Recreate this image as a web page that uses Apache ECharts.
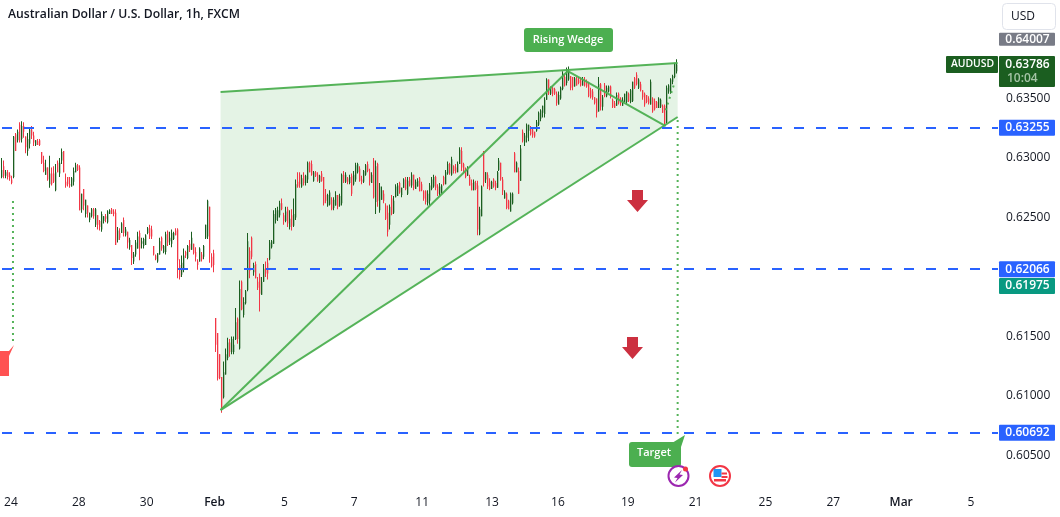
<!DOCTYPE html>
<html>
<head>
<meta charset="utf-8">
<title>AUDUSD 1h</title>
<style>html,body{margin:0;padding:0;background:#fff}#chart{width:1060px;height:517px}</style>
<script src="https://cdn.jsdelivr.net/npm/echarts@6/dist/echarts.min.js"></script>
</head>
<body>
<div id="chart"></div>
<script>
// Hourly bars in 1e-5 price points: [open, close, low, high]
const lateJanuaryBars = [
[62840,62900,62830,63000],[62930,62850,62830,62980],[62850,62880,62830,62900],[62880,62840,62820,62900],[62860,62830,62810,62880],
[62820,62790,62780,62850],[62840,63180,62830,63185],[63200,63060,63060,63210],[63150,63220,63130,63240],[63280,63150,63130,63300],[63160,63270,63130,63310],
[63270,63220,63170,63300],[63180,63090,63040,63180],[63060,63160,63020,63210],[63120,63240,63080,63250],[63240,63190,63160,63270],[63190,63130,63100,63220],
[63110,63150,63100,63150],[63140,63110,63110,63160],[63150,63110,63100,63160],[63050,62960,62950,63050],[62960,62890,62880,63020],[62860,62920,62860,62985],
[62920,62820,62810,62920],[62780,62870,62750,63020],[62870,62780,62770,62920],[62870,62800,62790,62930],[62730,62880,62720,62950],[62960,62880,62880,62980],
[62870,62960,62840,63000],[62980,63050,62950,63080],[63060,62880,62880,63060],[62800,62770,62750,62870],[62840,62780,62760,62840],[62780,62770,62750,62840],
[62760,62830,62760,62840],[62800,62890,62770,62920],[62880,62940,62880,62960],[62940,62900,62890,62950],[62920,62560,62560,62940],[62570,62700,62540,62700],
[62740,62600,62560,62740],[62530,62650,62500,62650],[62600,62540,62500,62600],[62480,62540,62460,62540],[62510,62570,62500,62580],[62570,62510,62490,62580],
[62440,62570,62420,62580],[62520,62440,62400,62520],[62470,62420,62390,62480],[62400,62530,62380,62550],[62470,62510,62450,62510],[62510,62490,62460,62530],
[62460,62550,62450,62560],[62530,62560,62530,62570],[62570,62530,62530,62580],[62550,62530,62510,62570],[62540,62270,62270,62570],[62310,62390,62290,62420],
[62370,62330,62310,62410],[62370,62450,62370,62460],[62480,62370,62340,62500],[62350,62400,62340,62420],[62380,62290,62240,62380],[62250,62310,62230,62330],
[62270,62160,62100,62270],[62130,62190,62110,62210],[62190,62290,62170,62310],[62240,62340,62240,62380],[62370,62240,62140,62390],[62280,62300,62240,62330],[62260,62320,62240,62330],
[62270,62350,62270,62360],[62370,62410,62360,62420],[62410,62340,62320,62440],[62400,62340,62320,62430],[62260,62190,62180,62260],[62180,62150,62140,62190],
[62130,62200,62120,62200],[62190,62300,62190,62330],[62330,62240,62220,62340],[62210,62260,62200,62270],[62210,62360,62190,62380],[62380,62290,62260,62390],[62300,62330,62270,62380],
[62280,62370,62250,62400],[62320,62370,62310,62380],[62390,62350,62350,62410],[62400,62140,61990,62410],[62100,62000,61980,62150],[62020,62120,62000,62180],
[62060,62180,62040,62240],[62210,62180,62160,62220],[62160,62260,62150,62270],[62280,62230,62210,62310],[62230,62330,62230,62380],[62280,62200,62190,62280],
[62210,62170,62130,62250],[62130,62100,62060,62150],[62130,62240,62130,62250],[62190,62150,62130,62210],[62170,62260,62150,62270],[62330,62440,62320,62440],
[62340,62640,62320,62650],[62590,62200,62120,62590],[62170,62090,62080,62200],[62200,62100,62040,62230]
];
const earlyFebruaryBars = [
[61655,61430,61370,61655],[61530,61150,61130,61530],[61350,61150,61140,61350],[61160,60890,60860,61160],[60990,61200,60980,61290],[61180,61350,61180,61400],
[61320,61450,61300,61490],[61450,61370,61330,61480],[61370,61480,61350,61500],[61370,61430,61350,61500],[61480,61620,61470,61740],[61650,61480,61440,61660],
[61400,61900,61390,61970],[61960,61730,61720,61970],[61680,61790,61660,61830],[61780,61880,61770,61890],[61890,62300,61880,62370],[62220,62050,61990,62250],
[62330,62170,62150,62340],[62040,62100,62010,62120],[62110,61990,61990,62130],[61960,61910,61890,62000],[62000,61860,61710,62030],[61850,61960,61850,62000],
[61960,62070,61960,62110],[62070,62030,62000,62130],[62120,62030,61980,62160],[62150,62290,62140,62310],[62250,62300,62240,62310],[62280,62530,62280,62560],
[62480,62560,62450,62580],[62500,62560,62470,62590],[62520,62620,62500,62640],[62620,62570,62560,62660],[62520,62470,62440,62540],[62470,62550,62460,62590],
[62570,62450,62420,62590],[62420,62490,62400,62560],[62520,62430,62390,62570],[62430,62530,62420,62660],[62500,62780,62480,62820],[62800,62760,62750,62880],
[62860,62780,62750,62880],[62760,62830,62750,62860],[62850,62790,62770,62880],[62790,62850,62770,62860],[62820,62960,62790,62970],[62960,62880,62880,62970],
[62950,62860,62850,62980],[62810,62880,62800,62890],[62880,62850,62840,62890],[62860,62810,62800,62880],[62800,62850,62790,62860],[62870,62810,62800,62890],
[62840,62620,62600,62840],[62690,62640,62620,62740],[62600,62690,62590,62700],[62610,62710,62600,62730],[62650,62570,62560,62670],[62580,62650,62560,62670],
[62600,62690,62600,62720],[62690,62590,62570,62690],[62600,62680,62590,62700],[62620,62860,62600,62870],[62860,62800,62790,62890],[62800,62860,62790,62880],
[62830,62800,62780,62840],[62790,62840,62780,62860],[62850,62700,62680,62870],[62780,62860,62770,62890],[62820,62940,62800,62960],[62880,62950,62870,62960],
[62910,62810,62800,62930],[62820,62800,62780,62850],[62800,62890,62790,62900],[62860,62940,62850,62950],[62950,62890,62880,62970],[62880,62800,62770,62910],
[62790,62860,62790,62880],[62980,62670,62660,63000]
];
const midFebruaryBars = [
[62630,62930,62530,62980],[62950,62640,62590,62960],[62560,62760,62540,62790],[62650,62730,62650,62760],[62700,62640,62620,62730],[62600,62490,62480,62620],
[62540,62380,62340,62600],[62440,62590,62400,62610],[62660,62530,62520,62690],[62540,62640,62530,62680],[62670,62760,62670,62780],[62680,62770,62680,62790],
[62790,62710,62700,62800],[62690,62750,62670,62750],[62750,62820,62750,62830],[62820,62740,62730,62840],[62700,62810,62690,62840],[62820,62770,62760,62840],
[62770,62860,62750,62880],[62860,62750,62730,62860],[62740,62800,62740,62820],[62760,62810,62760,62830],[62830,62720,62720,62840],[62780,62730,62720,62800],
[62720,62660,62640,62730],[62720,62630,62610,62730],[62620,62700,62600,62730],[62640,62770,62600,62790],[62740,62820,62730,62840],[62760,62840,62750,62860],
[62840,62750,62730,62850],[62760,62700,62680,62780],[62700,62760,62680,62790],[62700,62770,62700,62780],[62840,62780,62770,62850],[62780,62880,62780,62900],
[62870,62950,62860,62970],[62950,62870,62860,62960],[62860,62990,62850,63010],[62930,62890,62870,62940],[62920,62880,62870,62950],[62880,62950,62880,62970],
[62950,63070,62950,63090],[63060,62920,62890,63090],[62950,62880,62870,62960],[62900,62840,62830,62920],[62850,62910,62850,62930],[62840,62770,62770,62860],
[62790,62730,62730,62820],[62730,62800,62730,62820],[62790,62740,62730,62810],[62770,62400,62350,62810],[62360,62570,62350,62590],[62510,62760,62510,62770],
[63060,62800,62760,63060],[62820,62880,62790,62880],[62860,62760,62740,62880],[62800,62740,62730,62830],[62740,62800,62740,62810],[62820,62760,62750,62830],
[62790,62750,62730,62810],[62750,62880,62750,62890],[62900,62980,62890,63000],[62960,62820,62810,62960],[62820,62720,62690,62840],[62660,62710,62660,62730],
[62700,62580,62570,62710],[62640,62570,62570,62650],[62550,62700,62550,62710],[62620,62700,62610,62710],[63040,62880,62880,63050],[62880,62960,62880,62970],
[62890,62700,62700,62920],[62810,63080,62810,63110]
];
const lateFebruaryBars = [
[63220,63140,63130,63240],[63130,63190,63100,63210],[63170,63280,63130,63290],[63230,63280,63140,63280],[63250,63200,63190,63270],[63240,63190,63170,63260],
[63220,63180,63170,63220],[63230,63300,63220,63320],[63280,63380,63270,63390],[63330,63400,63310,63410],[63380,63440,63340,63440],[63370,63490,63340,63510],
[63490,63660,63490,63670],[63660,63540,63530,63660],[63540,63590,63530,63600],[63590,63540,63520,63600],[63580,63540,63530,63590],[63540,63460,63440,63560],
[63450,63530,63450,63560],[63500,63590,63490,63600],[63580,63710,63570,63730],[63680,63610,63600,63700],[63630,63730,63610,63760],[63660,63730,63650,63770],
[63690,63590,63570,63690],[63680,63600,63570,63680],[63600,63670,63600,63680],[63670,63610,63610,63680],[63660,63630,63620,63680],[63660,63610,63600,63680],
[63610,63660,63610,63680],[63660,63610,63600,63680],[63640,63600,63590,63660],[63620,63520,63510,63640],[63570,63510,63500,63590],[63560,63510,63490,63580],
[63510,63460,63450,63510],[63500,63380,63340,63500],[63390,63620,63390,63680],[63620,63430,63400,63630],[63430,63510,63400,63530],[63610,63520,63510,63630],
[63520,63590,63510,63610],[63560,63600,63550,63610],[63600,63520,63500,63610],[63490,63430,63420,63500],[63460,63420,63420,63480],[63440,63530,63440,63550],
[63540,63460,63450,63550],[63500,63460,63440,63510],[63440,63490,63440,63510],[63470,63540,63470,63540],[63470,63560,63450,63560],[63540,63480,63470,63550],
[63470,63570,63460,63580],[63480,63640,63470,63640],[63670,63590,63580,63680],[63700,63620,63610,63720],[63590,63660,63580,63670],[63620,63570,63560,63640],
[63570,63510,63490,63570],[63540,63450,63430,63550],[63530,63470,63460,63530],[63500,63460,63450,63520],[63450,63640,63450,63660],[63500,63390,63380,63510],
[63480,63410,63400,63500],[63470,63420,63420,63480],[63420,63500,63420,63510],[63430,63490,63420,63500],[63440,63380,63380,63450],[63440,63280,63270,63450],
[63300,63590,63290,63610],[63560,63610,63540,63620],[63550,63660,63540,63670],[63640,63690,63620,63700],[63680,63790,63670,63800],[63730,63786,63710,63830]
];

// Date labels along the time scale and the bar slot each one sits on
const dateLabels = ['24','28','30','Feb','5','7','11','13','16','19','21','25','27','Mar','5'];
const dateSlots = [4,38,72,106,141,176,210,245,278,313,347,382,416,450,485];
const slotCount = 499;

// Price scale
const priceTicks = [0.605,0.61,0.615,0.625,0.63,0.635];
const priceFloor = 0.6021;
const priceCeiling = 0.64328;

// Horizontal support and resistance levels
const levelPrices = [0.63255,0.62066,0.60692];

// Drawn wedge geometry as [bar slot, price]
const wedgeArea = [[109,0.63555],[338,0.63798],[338,0.63345],[109,0.60882]];
const wedgeTop = [[109,0.63555],[338,0.63798]];
const wedgeBottom = [[109,0.60882],[338,0.63345]];
const riseLeg = [[109,0.60882],[283,0.63731]];
const pullbackLeg = [[283,0.63731],[332,0.63269]];
const targetDrop = [[338,0.6332],[338,0.60664]];
const reboundDrop = [[336,0.6361],[332,0.634]];
const earlierDrop = [[5,0.62639],[5,0.61429]];

// Price tags in the right margin
const tagPrices = [0.64007,0.63255,0.62066,0.61975,0.60692];
const tagColors = ['#787b86','#2962ff','#2962ff','#089981','#2962ff'];
const tagHeights = [13,16,16,16,16];
const tagShifts = [1,0,0,6,0];
const lastPrice = 0.63786;
const countdown = '10:04';

const bars = [...lateJanuaryBars,...earlyFebruaryBars,...midFebruaryBars,...lateFebruaryBars]
  .map((r,i) => [i, ...r.map(v => v / 100000)]);
const slots = new Array(slotCount).fill('');
dateSlots.forEach((s,i) => { slots[s] = dateLabels[i]; });

const GREEN = '#4caf50', UI_FONT = '"Open Sans","Noto Sans",sans-serif';
const BAR_UP = '#1b5e20', BAR_DOWN = '#f23645';

function strokeSeries(points, width, dash) {
  return { type:'line', data:points, symbol:'none', silent:true, z:5, animation:false,
    lineStyle:{ color:GREEN, width:width, type:dash || 'solid', opacity:0.95 } };
}

// Thin OHLC sticks snapped to whole pixels: a one pixel wick behind a slightly wider body
function renderBar(p, api) {
  const s = api.value(0), o = api.value(1), c = api.value(2), l = api.value(3), h = api.value(4);
  const x = Math.floor(api.coord([s, o])[0]) - 1;
  const yOpen = api.coord([s, o])[1], yClose = api.coord([s, c])[1];
  const yLow = api.coord([s, l])[1], yHigh = api.coord([s, h])[1];
  const fill = c >= o ? BAR_UP : BAR_DOWN;
  const top = Math.min(yOpen, yClose), height = Math.max(Math.abs(yOpen - yClose), 1);
  return { type:'group', children:[
    { type:'rect', shape:{ x:x, y:yHigh, width:1, height:yLow - yHigh }, style:{ fill:fill } },
    { type:'rect', shape:{ x:x, y:top, width:1.3, height:height }, style:{ fill:fill } } ] };
}

const option = {
  animation:false,
  backgroundColor:'#ffffff',
  title:{ text:'Australian Dollar / U.S. Dollar, 1h, FXCM', left:3, top:4,
    textStyle:{ fontFamily:UI_FONT, fontSize:12.2, fontWeight:600, color:'#131722' } },
  grid:{ left:0, right:62, top:0, height:490, containLabel:false },
  xAxis:{ type:'category', data:slots, boundaryGap:true,
    axisLine:{show:false}, axisTick:{show:false}, splitLine:{show:false},
    axisLabel:{ interval:0, margin:7, hideOverlap:false, fontFamily:UI_FONT, fontSize:12, color:'#131722',
      formatter:v => (v==='Feb'||v==='Mar') ? '{m|'+v+'}' : v,
      rich:{ m:{ fontFamily:UI_FONT, fontSize:12, fontWeight:600, color:'#131722' } } } },
  yAxis:{ type:'value', position:'right', min:priceFloor, max:priceCeiling,
    axisLine:{show:false}, axisTick:{show:false}, splitLine:{show:false},
    axisLabel:{ customValues:priceTicks, margin:8, fontFamily:UI_FONT, fontSize:12, color:'#131722',
      formatter:v => v.toFixed(5) } },
  series:[
    { type:'custom', coordinateSystem:'cartesian2d', data:[[0,priceFloor]], silent:true, z:1, clip:false,
      renderItem:(p,api) => ({ type:'polygon', shape:{ points:wedgeArea.map(c => api.coord(c)) },
        style:{ fill:'rgba(76,175,80,0.15)' } }) },
    { type:'custom', coordinateSystem:'cartesian2d', name:'AUDUSD', data:bars, z:3, silent:true,
      encode:{ x:0, y:[1,2,3,4] }, renderItem:renderBar,
      markLine:{ silent:true, symbol:'none', animation:false, precision:5, z:6, label:{show:false},
        lineStyle:{ color:'#2962ff', width:2, type:[10,12], opacity:1 },
        data:levelPrices.map(v => ({ yAxis:v })) } },
    strokeSeries(wedgeTop,2), strokeSeries(wedgeBottom,2), strokeSeries(riseLeg,2), strokeSeries(pullbackLeg,2),
    strokeSeries(targetDrop,2,[2,4]), strokeSeries(reboundDrop,2,[2,4]), strokeSeries(earlierDrop,2,[2,4]),
    // Price tags on the scale, positioned from their own prices
    { type:'custom', coordinateSystem:'cartesian2d', silent:true, z:8, clip:false,
      data:tagPrices.map((v,i) => [0,v,i]),
      renderItem:(p,api) => {
        const i = api.value(2), y = api.coord([0,tagPrices[i]])[1] + tagShifts[i], h = tagHeights[i];
        return { type:'group', children:[
          { type:'rect', shape:{ x:999, y:y-h/2, width:56, height:h, r:1 }, style:{ fill:tagColors[i] } },
          { type:'text', style:{ text:tagPrices[i].toFixed(5), x:1027.5, y:y, align:'center', verticalAlign:'middle',
            fill:'#fff', font:'600 12px '+UI_FONT } } ] };
      } },
    // Last price tag with symbol name and bar countdown
    { type:'custom', coordinateSystem:'cartesian2d', silent:true, z:8, clip:false,
      data:[[0,lastPrice]],
      renderItem:(p,api) => {
        const y = api.coord([0,lastPrice])[1];
        return { type:'group', children:[
          { type:'rect', shape:{ x:946, y:y-8.5, width:52, height:17, r:1 }, style:{ fill:'#1b5e20' } },
          { type:'text', style:{ text:'AUDUSD', x:972.5, y:y, align:'center', verticalAlign:'middle', fill:'#fff', font:'600 10.4px '+UI_FONT } },
          { type:'rect', shape:{ x:999, y:y-8.5, width:56, height:31, r:1 }, style:{ fill:'#1b5e20' } },
          { type:'text', style:{ text:lastPrice.toFixed(5), x:1027.5, y:y, align:'center', verticalAlign:'middle', fill:'#fff', font:'600 12px '+UI_FONT } },
          { type:'text', style:{ text:countdown, x:1007, y:y+14.5, align:'left', verticalAlign:'middle', fill:'#a5c4a6', font:'600 12px '+UI_FONT } } ] };
      } }
  ],
  graphic:[
    // Currency selector
    { type:'rect', z:20, shape:{ x:1002.5, y:3.5, width:53, height:26, r:4 }, style:{ fill:'#fff', stroke:'#e0e3eb', lineWidth:1 } },
    { type:'text', z:21, style:{ text:'USD', x:1011, y:17, verticalAlign:'middle', fill:'#131722', font:'12px '+UI_FONT } },
    // Pattern callout
    { type:'rect', z:20, shape:{ x:524, y:28, width:89, height:24, r:3 }, style:{ fill:GREEN } },
    { type:'text', z:21, style:{ text:'Rising Wedge', x:568, y:40, align:'center', verticalAlign:'middle', fill:'#fff', font:'600 11px '+UI_FONT } },
    // Target callout
    { type:'polygon', z:20, shape:{ points:[[672,443],[681,447],[685,435]] }, style:{ fill:GREEN } },
    { type:'rect', z:20, shape:{ x:629, y:442, width:52, height:25, r:3 }, style:{ fill:GREEN } },
    { type:'text', z:21, style:{ text:'Target', x:654, y:453, align:'center', verticalAlign:'middle', fill:'#fff', font:'600 11px '+UI_FONT } },
    // Bearish arrows
    { type:'polygon', z:20, shape:{ points:[[632,190],[643,190],[643,200],[648,200],[637.5,212],[627,200],[632,200]] }, style:{ fill:'#cc3040' } },
    { type:'polygon', z:20, shape:{ points:[[627,337],[638,337],[638,347],[643,347],[632.5,359],[622,347],[627,347]] }, style:{ fill:'#cc3040' } },
    // Earlier short-signal flag at the left edge
    { type:'polygon', z:20, shape:{ points:[[0,351],[9,351],[14,345],[9,356],[9,376],[0,376]] }, style:{ fill:'#ff5252' } },
    // Event markers under the last bar
    { type:'circle', z:20, shape:{ cx:678.5, cy:476, r:10 }, style:{ fill:'#fff', stroke:'#9c27b0', lineWidth:2 } },
    { type:'polygon', z:21, shape:{ points:[[682,470],[674,477.5],[677.5,478],[675,482.5],[683,475],[679.5,474.5]] }, style:{ fill:'#9c27b0' } },
    { type:'circle', z:21, shape:{ cx:685.5, cy:469, r:2.5 }, style:{ fill:'#f23645' } },
    { type:'circle', z:20, shape:{ cx:720, cy:476, r:10 }, style:{ fill:'#fff', stroke:'#f23645', lineWidth:2 } },
    { type:'rect', z:21, shape:{ x:713.5, y:469, width:8, height:8 }, style:{ fill:'#2196f3' } },
    { type:'rect', z:21, shape:{ x:721.5, y:472.5, width:5.5, height:2 }, style:{ fill:'#f23645' } },
    { type:'rect', z:21, shape:{ x:721.5, y:476, width:6, height:2 }, style:{ fill:'#f23645' } },
    { type:'rect', z:21, shape:{ x:714, y:479, width:12, height:2.5 }, style:{ fill:'#f23645' } }
  ]
};
echarts.init(document.getElementById('chart')).setOption(option);
</script>
</body>
</html>
